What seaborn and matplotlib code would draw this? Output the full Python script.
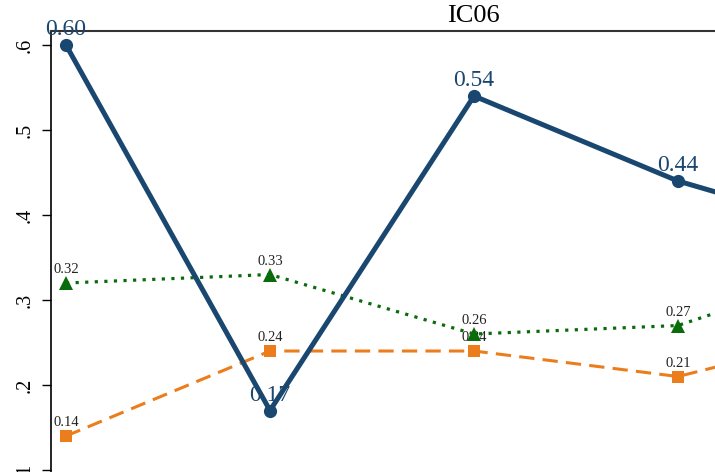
import pandas as pd
import matplotlib
matplotlib.use("Agg")
import matplotlib.pyplot as plt
import seaborn as sns

# Survey waves and the three indicator series
waves = [1, 2, 3, 4, 5]
navy_vals = [0.60, 0.17, 0.54, 0.44, 0.37]
green_vals = [0.32, 0.33, 0.26, 0.27, 0.35]
orange_vals = [0.14, 0.24, 0.24, 0.21, 0.27]
y_ticks = [0.1, 0.2, 0.3, 0.4, 0.5, 0.6]
y_tick_labels = [".1", ".2", ".3", ".4", ".5", ".6"]
panel_title = "IC06"
n_labelled = 4  # waves whose value labels fall inside the frame

sns.set_theme(style="ticks")
plt.rcParams["font.family"] = ["Liberation Serif", "DejaVu Serif"]

W, H = 715, 472
fig = plt.figure(figsize=(W / 100, H / 100), dpi=100)
fig.patch.set_facecolor("white")

# Panel placed in pixel units; it runs past the right and bottom edges
left_px, right_px, top_px, bottom_px = 51, 897, 31, 512.5
ax = fig.add_axes([left_px / W, 1 - bottom_px / H,
                   (right_px - left_px) / W, (bottom_px - top_px) / H])
ax.set_facecolor("white")

series = [
    dict(vals=orange_vals, color="#ec7d1c", marker="s", ms=8.5,
         ls=(0, (5, 2.7)), lw=2.2, fs=10.5, lc="#222222", off=7, z=2),
    dict(vals=green_vals, color="#0a6b0a", marker="^", ms=10,
         ls=(0, (1, 2)), lw=2.3, fs=10.5, lc="#222222", off=7, z=3),
    dict(vals=navy_vals, color="#1a476f", marker="o", ms=9.5,
         ls="-", lw=3.6, fs=17, lc="#1a476f", off=7, z=4),
]

for s in series:
    sns.lineplot(x=waves, y=s["vals"], ax=ax, color=s["color"],
                 marker=s["marker"], markersize=s["ms"], markeredgewidth=0,
                 linestyle=s["ls"], linewidth=s["lw"], zorder=s["z"],
                 legend=False)
    for x, v in zip(waves[:n_labelled], s["vals"][:n_labelled]):
        ax.annotate(f"{v:.2f}", (x, v), xytext=(0, s["off"]),
                    textcoords="offset points", ha="center", va="baseline",
                    fontsize=s["fs"], color=s["lc"], zorder=s["z"] + 0.5)

pad = 15 / 204
ax.set_xlim(waves[0] - pad, waves[-1] + pad)
ax.set_ylim(0.05, 0.6165)
ax.set_xticks([])
ax.set_xlabel("")
ax.set_ylabel("")
ax.set_yticks(y_ticks)
ax.set_yticklabels(y_tick_labels)
ax.tick_params(axis="y", direction="out", length=6.5, width=1.0,
               labelsize=14.5, labelrotation=90, pad=5, colors="black")
for lab in ax.get_yticklabels():
    lab.set_verticalalignment("center")

for side in ["right", "bottom"]:
    ax.spines[side].set_visible(False)
ax.spines["left"].set_color("black")
ax.spines["left"].set_linewidth(1.2)
ax.spines["top"].set_color("#333333")
ax.spines["top"].set_linewidth(1.5)

fig.text(473 / W, 1 - 22 / H, panel_title, ha="center", va="baseline",
         fontsize=19, color="black")

fig.savefig("out.png", dpi=100, facecolor="white")
